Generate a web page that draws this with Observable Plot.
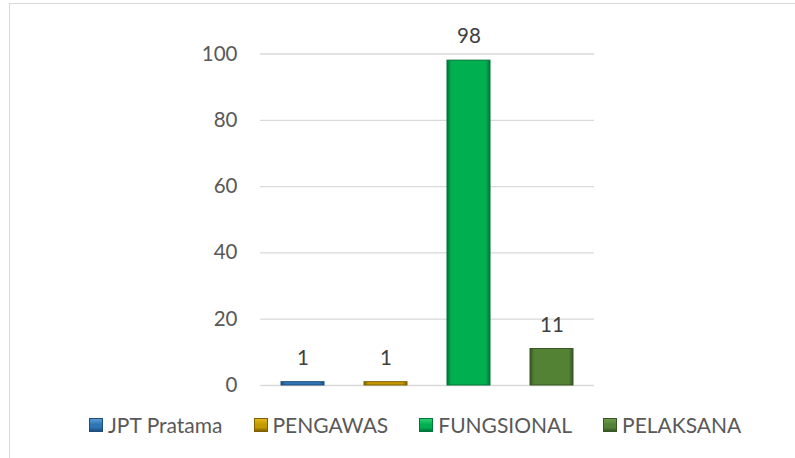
<!DOCTYPE html>
<html><head><meta charset="utf-8">
<script src="https://cdn.jsdelivr.net/npm/d3@7"></script>
<script src="https://cdn.jsdelivr.net/npm/@observablehq/plot@0.6"></script>
<style>
html,body{margin:0;padding:0;background:#fff;overflow:hidden;width:795px;height:458px;font-family:Lato,"Open Sans",sans-serif;}
#frame{position:absolute;left:9px;top:3px;width:820px;height:500px;border:1px solid #d9d9d9;box-sizing:border-box}
#chart{position:absolute;left:0;top:0}
#legend{position:absolute;left:89px;top:413px;display:flex;gap:31px;font-size:21px;color:#595959;white-space:nowrap;line-height:24px}
.item{display:flex;align-items:center}
.sw{width:14px;height:14px;margin-right:5px;box-sizing:border-box;border:1px solid}
</style></head><body>
<div id="frame"></div><div id="chart"></div><div id="legend"></div>
<script>
const categories = ["JPT Pratama", "PENGAWAS", "FUNGSIONAL", "PELAKSANA"];
const values = [1, 1, 98, 11];
const colors = ["#2E75B6", "#C49A00", "#00B050", "#548235"];
const lights = ["#5B9BD5", "#E0B820", "#2ECC71", "#6E9B4A"];
const strokes = ["#1F4E79", "#7F6000", "#00743A", "#375623"];
const yTicks = [0, 20, 40, 60, 80, 100];

const data = categories.map((c, i) => ({category: c, value: values[i], fill: `url(#bevel${i})`, stroke: strokes[i]}));

const plot = Plot.plot({
  width: 795, height: 395,
  marginLeft: 260, marginRight: 201, marginTop: 53.5, marginBottom: 10,
  style: {fontFamily: "Lato, 'Open Sans', sans-serif", fontSize: "20.5px", color: "#595959", background: "transparent"},
  x: {domain: categories, paddingInner: 0.485, paddingOuter: 0.2425, axis: null},
  y: {domain: [0, 100], axis: null},
  color: {type: "identity"},
  marks: [
    Plot.ruleY(yTicks, {stroke: "#d9d9d9", strokeWidth: 1.3}),
    Plot.axisY({ticks: yTicks, tickSize: 0, tickPadding: 23, fontSize: 20.5, fill: "#595959", label: null}),
    Plot.barY(data, {x: "category", y: "value", fill: "fill", stroke: "stroke", strokeWidth: 1}),
    Plot.text(data, {x: "category", y: "value", text: d => String(d.value), lineAnchor: "bottom", dy: -17.5, fill: "#404040", fontSize: 20.5})
  ]
});
const defs = d3.select(plot).insert("defs", ":first-child");
colors.forEach((c, i) => {
  const g = defs.append("linearGradient").attr("id", `bevel${i}`).attr("x1", 0).attr("x2", 1).attr("y1", 0).attr("y2", 0);
  g.append("stop").attr("offset", "0%").attr("stop-color", strokes[i]);
  g.append("stop").attr("offset", "10%").attr("stop-color", c);
  g.append("stop").attr("offset", "90%").attr("stop-color", c);
  g.append("stop").attr("offset", "100%").attr("stop-color", strokes[i]);
});
document.getElementById("chart").appendChild(plot);

const legend = document.getElementById("legend");
categories.forEach((c, i) => {
  const item = document.createElement("div");
  item.className = "item";
  const sw = document.createElement("span");
  sw.className = "sw";
  sw.style.background = `linear-gradient(180deg, ${lights[i]} 0%, ${colors[i]} 45%, ${colors[i]} 70%, ${strokes[i]} 100%)`;
  sw.style.borderColor = strokes[i];
  const t = document.createElement("span");
  t.textContent = c;
  item.appendChild(sw); item.appendChild(t);
  legend.appendChild(item);
});
</script>
</body></html>
